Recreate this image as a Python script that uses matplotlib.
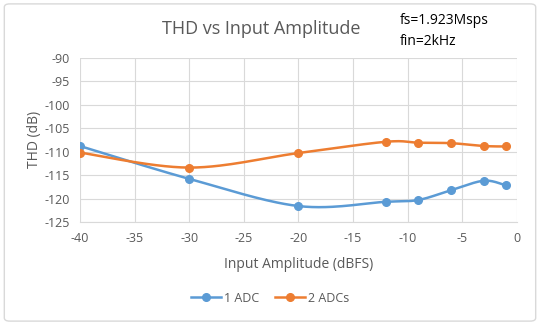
import numpy as np
import matplotlib
matplotlib.use("Agg")
import matplotlib.pyplot as plt
from matplotlib.patches import FancyBboxPatch
from matplotlib.lines import Line2D

plt.rcParams['font.family'] = ['Open Sans', 'DejaVu Sans']
plt.rcParams['axes.unicode_minus'] = False

x_vals = [-40, -30, -20, -12, -9, -6, -3, -1]
adc1 = [-108.8, -115.8, -121.6, -120.7, -120.3, -118.2, -116.2, -117.2]
adc2 = [-110.2, -113.4, -110.3, -107.9, -108.1, -108.2, -108.8, -108.9]
series_names = ["1 ADC", "2 ADCs"]
colors = ["#5B9BD5", "#ED7D31"]
xticks = [-40, -35, -30, -25, -20, -15, -10, -5, 0]
yticks = [-90, -95, -100, -105, -110, -115, -120, -125]


def smooth(xs, ys, n=30):
    # Excel-style smoothed line: cubic Bezier with Catmull-Rom control points
    P = np.column_stack([xs, ys]).astype(float)
    out = []
    for i in range(len(P) - 1):
        p0 = P[i - 1] if i > 0 else P[i]
        p1 = P[i]
        p2 = P[i + 1]
        p3 = P[i + 2] if i + 2 < len(P) else P[i + 1]
        c1 = p1 + (p2 - p0) / 6.0
        c2 = p2 - (p3 - p1) / 6.0
        t = np.linspace(0, 1, n)[:, None]
        seg = ((1 - t) ** 3) * p1 + 3 * ((1 - t) ** 2) * t * c1 + 3 * (1 - t) * t ** 2 * c2 + t ** 3 * p2
        out.append(seg if i == 0 else seg[1:])
    s = np.vstack(out)
    return s[:, 0], s[:, 1]


fig = plt.figure(figsize=(5.4, 3.25), dpi=100)
fig.patch.set_facecolor("white")
border = FancyBboxPatch((0.008, 0.012), 0.984, 0.976, boxstyle="round,pad=0,rounding_size=0.01",
                        transform=fig.transFigure, fill=False, edgecolor="#D9D9D9", linewidth=1.0)
fig.patches.append(border)

ax = fig.add_axes([0.148, 0.317, 0.809, 0.505])
for ys, c in zip([adc1, adc2], colors):
    sx, sy = smooth(x_vals, ys)
    ax.plot(sx, sy, color=c, linewidth=1.8, zorder=3)
    ax.plot(x_vals, ys, linestyle="none", marker="o", markersize=5.5, color=c, zorder=4)

ax.set_xlim(-40, 0)
ax.set_ylim(-125, -90)
ax.set_xticks(xticks)
ax.set_yticks(yticks)
ax.grid(True, color="#D9D9D9", linewidth=0.8)
ax.set_axisbelow(True)
for s in ["top", "right", "left"]:
    ax.spines[s].set_visible(False)
ax.spines["bottom"].set_color("#D9D9D9")
ax.tick_params(length=0, labelsize=9, colors="#595959", pad=7)
ax.set_xlabel("Input Amplitude (dBFS)", fontsize=10, color="#595959", labelpad=9)
ax.set_ylabel("THD (dB)", fontsize=10, color="#595959", labelpad=2)

fig.text(0.483, 0.912, "THD vs Input Amplitude", ha="center", va="center", fontsize=13, color="#595959")
fig.text(0.74, 0.905, "fs=1.923Msps\nfin=2kHz", ha="left", va="center", fontsize=10,
         color="black", linespacing=1.5)

handles = [Line2D([0], [0], color=c, linewidth=1.8, marker="o", markersize=5.5) for c in colors]
fig.legend(handles, series_names, loc="center", bbox_to_anchor=(0.5, 0.083), ncol=2, frameon=False,
           fontsize=9, labelcolor="#595959", handlelength=2.4, columnspacing=1.2, handletextpad=0.3)

fig.savefig("out.png", dpi=100)
